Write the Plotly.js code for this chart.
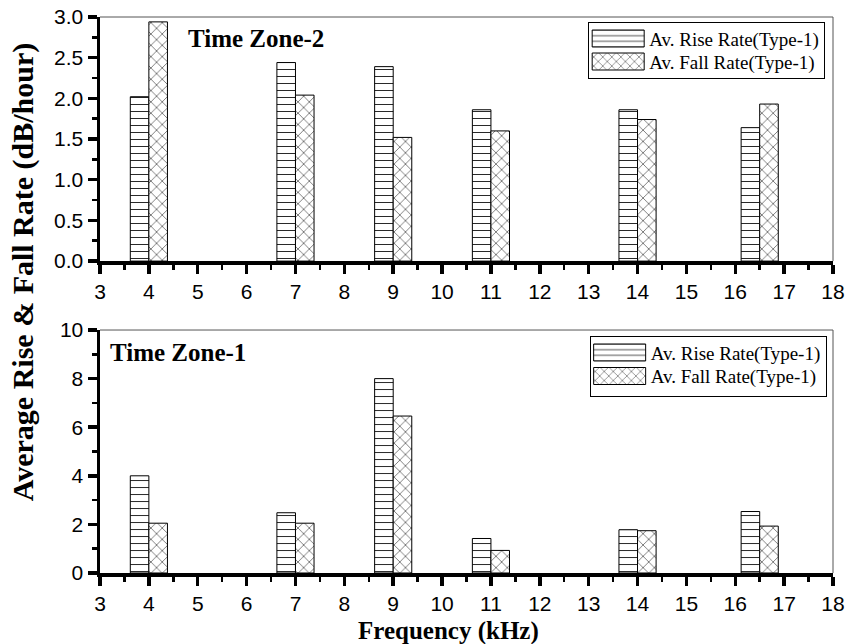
<!DOCTYPE html>
<html>
<head>
<meta charset="utf-8">
<script src="https://cdn.plot.ly/plotly-3.0.1.min.js"></script>
<style>html,body{margin:0;padding:0;background:#fff}#chart{width:846px;height:644px}</style>
</head>
<body>
<div id="chart"></div>
<script>
// Data
const freqs = [4, 7, 9, 11, 14, 16.5];
const riseTZ2 = [2.02, 2.44, 2.39, 1.86, 1.86, 1.64];
const fallTZ2 = [2.94, 2.04, 1.52, 1.60, 1.74, 1.93];
const riseTZ1 = [4.0, 2.48, 8.0, 1.42, 1.78, 2.53];
const fallTZ1 = [2.05, 2.05, 6.46, 0.93, 1.74, 1.93];
const riseName = "Av. Rise Rate(Type-1)";
const fallName = "Av. Fall Rate(Type-1)";
const xTicks = [3,4,5,6,7,8,9,10,11,12,13,14,15,16,17,18];

const barW = 0.38;
function bar(x, y, name, shape, size, xa, ya, legend, off) {
  return {
    type: 'bar', x: x, y: y, name: name, xaxis: xa, yaxis: ya, legend: legend,
    width: barW, offset: off,
    marker: {
      color: '#fff',
      line: {color: '#000', width: 1},
      pattern: {shape: shape, fgcolor: '#000', bgcolor: '#fff', size: size, solidity: 0.12, fillmode: 'replace'}
    },
    hoverinfo: 'x+y'
  };
}

const traces = [
  bar(freqs, riseTZ2, riseName, '-', 7, 'x', 'y', 'legend', -barW),
  bar(freqs, fallTZ2, fallName, 'x', 8, 'x', 'y', 'legend', 0),
  bar(freqs, riseTZ1, riseName, '-', 7, 'x2', 'y2', 'legend2', -barW),
  bar(freqs, fallTZ1, fallName, 'x', 8, 'x2', 'y2', 'legend2', 0)
];

const tickFont = {family: 'Liberation Sans, Arial, sans-serif', size: 21, color: '#000'};
function xaxis(anchor) {
  return {
    anchor: anchor, domain: [0, 1], range: [3, 18], tickvals: xTicks,
    showgrid: false, zeroline: false, showline: true, linecolor: '#000', linewidth: 3.5,
    ticks: 'outside', ticklen: 9, tickwidth: 3.5, tickcolor: '#000', tickfont: tickFont,
    minor: {dtick: 0.5, tick0: 3, ticks: 'outside', ticklen: 5, tickwidth: 2.5, tickcolor: '#000'}
  };
}
function yaxis(anchor, domain, range, dtick, minorDtick, fmt) {
  return {
    anchor: anchor, domain: domain, range: range, dtick: dtick, tick0: 0, tickformat: fmt,
    showgrid: false, zeroline: false, showline: true, linecolor: '#000', linewidth: 3.5,
    ticks: 'outside', ticklen: 9, tickwidth: 3.5, tickcolor: '#000', tickfont: tickFont,
    minor: {dtick: minorDtick, tick0: 0, ticks: 'outside', ticklen: 5, tickwidth: 2.5, tickcolor: '#000'}
  };
}

const serif = 'Liberation Serif, Times New Roman, serif';
const annFont = {family: serif, size: 25, color: '#000', weight: 'bold'};
const yTitleFont = {family: serif, size: 30, color: '#000', weight: 'bold'};
const legendFont = {family: serif, size: 19, color: '#000'};

const layout = {
  width: 846, height: 644,
  margin: {l: 100, r: 13, t: 17, b: 71},
  paper_bgcolor: '#fff', plot_bgcolor: '#fff',
  showlegend: true,
  barmode: 'overlay',
  xaxis: xaxis('y'),
  yaxis: yaxis('x', [0.561, 1], [0, 3], 0.5, 0.25, '.1f'),
  xaxis2: xaxis('y2'),
  yaxis2: yaxis('x2', [0, 0.437], [0, 10], 2, 1, 'd'),
  legend: {
    x: 0.666, y: 0.991, xanchor: 'left', yanchor: 'top',
    bordercolor: '#000', borderwidth: 1, bgcolor: '#fff', font: legendFont,
    itemwidth: 50, tracegroupgap: 0
  },
  legend2: {
    x: 0.668, y: 0.426, xanchor: 'left', yanchor: 'top',
    bordercolor: '#000', borderwidth: 1, bgcolor: '#fff', font: legendFont,
    itemwidth: 50, tracegroupgap: 0
  },
  annotations: [
    {text: '<b>Time Zone-2</b>', xref: 'paper', yref: 'paper', x: 0.118, y: 0.99,
     xanchor: 'left', yanchor: 'top', showarrow: false, font: annFont},
    {text: '<b>Time Zone-1</b>', xref: 'paper', yref: 'paper', x: 0.011, y: 0.424,
     xanchor: 'left', yanchor: 'top', showarrow: false, font: annFont},
    {text: '<b>Frequency (kHz)</b>', xref: 'paper', yref: 'paper', x: 0.475, y: -0.075,
     xanchor: 'center', yanchor: 'top', showarrow: false, font: annFont},
    {text: '<b>Average Rise & Fall Rate (dB/hour)</b>', xref: 'paper', yref: 'paper',
     x: -0.105, y: 0.541, xanchor: 'center', yanchor: 'middle', textangle: -90,
     showarrow: false, font: yTitleFont}
  ],
  shapes: [
    {type: 'line', xref: 'x domain', yref: 'y domain', x0: 0, x1: 1, y0: 1, y1: 1, line: {color: '#555', width: 1}},
    {type: 'line', xref: 'x domain', yref: 'y domain', x0: 1, x1: 1, y0: 0, y1: 1, line: {color: '#555', width: 1}},
    {type: 'line', xref: 'x2 domain', yref: 'y2 domain', x0: 0, x1: 1, y0: 1, y1: 1, line: {color: '#555', width: 1}},
    {type: 'line', xref: 'x2 domain', yref: 'y2 domain', x0: 1, x1: 1, y0: 0, y1: 1, line: {color: '#555', width: 1}}
  ]
};

function parseTranslate(t) {
  const m = /translate\(\s*([-\d.e]+)(?:[ ,]+([-\d.e]+))?\s*\)/.exec(t || '');
  return m ? [parseFloat(m[1]), m[2] !== undefined ? parseFloat(m[2]) : 0] : [0, 0];
}

Plotly.newPlot('chart', traces, layout, {displayModeBar: false, staticPlot: true}).then(function (gd) {
  // widen legend swatches to look like the reference's wide patterned boxes
  gd.querySelectorAll('g.traces').forEach(function (item) {
    const txt = item.querySelector('text.legendtext');
    const tx = txt ? parseFloat(txt.getAttribute('x')) : 60;
    item.querySelectorAll('g.legendpoints path').forEach(function (p) {
      p.setAttribute('transform', '');
      p.setAttribute('d', 'M3,-8.5H' + (tx - 5) + 'V8.5H3Z');
    });
  });
  // place legend rows at the reference's row centres (screen px) and resize the box
  const legendGroups = Array.prototype.filter.call(
    gd.querySelectorAll('.infolayer > g'),
    function (g) { return g.querySelector('rect.bg') && g.querySelector('g.traces'); }
  );
  function fixLegend(lg, centers, height) {
    if (!lg) return;
    const items = lg.querySelectorAll('g.traces');
    items.forEach(function (it, i) {
      if (i >= centers.length) return;
      const p = it.querySelector('g.legendpoints path');
      if (!p) return;
      const r = p.getBoundingClientRect();
      const cy = r.top + r.height / 2;
      const delta = centers[i] - cy;
      const t = parseTranslate(it.getAttribute('transform'));
      it.setAttribute('transform', 'translate(' + t[0] + ',' + (t[1] + delta) + ')');
    });
    const bg = lg.querySelector('rect.bg');
    if (bg) bg.setAttribute('height', height);
  }
  fixLegend(legendGroups[0], [38.5, 61.5], 56);
  fixLegend(legendGroups[1], [352.5, 376], 60);
});
</script>
</body>
</html>
